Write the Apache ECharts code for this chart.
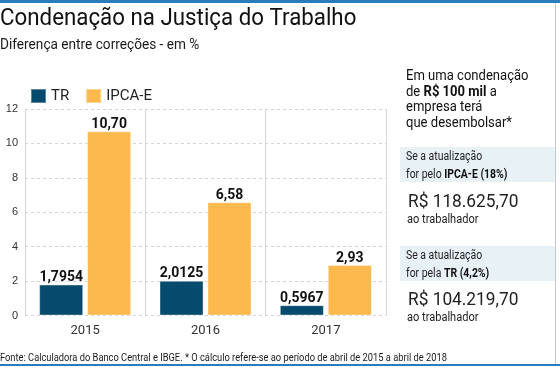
<!DOCTYPE html>
<html><head><meta charset="utf-8">
<script src="https://cdn.jsdelivr.net/npm/echarts@6/dist/echarts.min.js"></script>
<style>html,body{margin:0;padding:0;background:#fff}#c{width:560px;height:368px}</style>
</head><body><div id="c"></div>
<script>
const categories = ['2015', '2016', '2017'];
const trValues = [1.7954, 2.0125, 0.5967];
const ipcaValues = [10.70, 6.58, 2.93];
const seriesNames = ['TR', 'IPCA-E'];
const yTicks = { min: 0, max: 12, interval: 2 };

const NARROW = '"Liberation Sans Narrow", "Roboto", sans-serif';
const chart = echarts.init(document.getElementById('c'), null, { renderer: 'canvas' });

const fmt = (v, d) => v.toFixed(d).replace('.', ',');

function txt(x, y, text, font, sx, extra) {
  return Object.assign({
    type: 'text', x: x, y: y, scaleX: sx, scaleY: 1, silent: true,
    style: Object.assign({ text: text, font: font, fill: '#1a1a1a', align: 'left', verticalAlign: 'top' }, extra || {})
  });
}

chart.setOption({
  animation: false,
  backgroundColor: '#fff',
  grid: { left: 25, right: 174, top: 109, bottom: 52.5, containLabel: false },
  legend: {
    left: 25, top: 83, itemWidth: 15, itemHeight: 14, itemGap: 16, icon: 'rect',
    textStyle: { fontFamily: NARROW, fontSize: 15, color: '#222' },
    data: seriesNames
  },
  xAxis: {
    type: 'category', data: categories,
    axisLine: { show: false }, axisTick: { show: false },
    axisLabel: { color: '#333', fontFamily: NARROW, fontSize: 13, margin: 9 },
    splitLine: { show: true, lineStyle: { color: '#d6d6d6', width: 1, type: 'solid' } }
  },
  yAxis: {
    type: 'value', min: yTicks.min, max: yTicks.max, interval: yTicks.interval,
    axisLine: { show: false }, axisTick: { show: false },
    axisLabel: { color: '#333', fontFamily: '"Liberation Sans", sans-serif', fontSize: 11, margin: 7 },
    splitLine: { lineStyle: { color: '#d4d4d4', type: [3, 3], width: 1 } }
  },
  series: [
    {
      name: seriesNames[0], type: 'bar', data: trValues, barWidth: 44, barGap: '9%',
      itemStyle: { color: '#064b6d', borderColor: 'rgba(255,255,255,0.35)', borderWidth: 1 },
      label: { show: true, position: 'top', distance: 0, formatter: p => fmt(p.value, 4),
        fontFamily: 'Roboto, sans-serif', fontWeight: 'bold', fontSize: 14, color: '#111' }
    },
    {
      name: seriesNames[1], type: 'bar', data: ipcaValues, barWidth: 44,
      itemStyle: { color: '#fbb94e', borderColor: 'rgba(255,255,255,0.35)', borderWidth: 1 },
      label: { show: true, position: 'top', distance: 0, formatter: p => fmt(p.value, 2),
        fontFamily: 'Roboto, sans-serif', fontWeight: 'bold', fontSize: 14, color: '#111' }
    }
  ],
  graphic: [
    { type: 'rect', shape: { x: 0, y: 0, width: 560, height: 3 }, style: { fill: '#2b7cba' }, silent: true },
    { type: 'rect', shape: { x: 0, y: 364, width: 560, height: 2 }, style: { fill: '#2b7cba' }, silent: true },
    { type: 'rect', shape: { x: 555, y: 3, width: 1, height: 361 }, style: { fill: '#c8c8c8' }, silent: true },
    txt(0, 8, 'Condenação na Justiça do Trabalho', '23px ' + NARROW, 0.97, { fill: '#111' }),
    txt(0, 38, 'Diferença entre correções - em %', '15px ' + NARROW, 0.91),
    txt(0, 352, 'Fonte: Calculadora do Banco Central e IBGE. * O cálculo refere-se ao período de abril de 2015 a abril de 2018', '11.5px ' + NARROW, 0.81),
    txt(406, 69, 'Em uma condenação\nde {b|R$ 100 mil} a\nempresa terá\nque desembolsar*', '14.5px ' + NARROW, 0.9, {
      fill: '#111', lineHeight: 15.5,
      rich: { b: { fontFamily: NARROW, fontSize: 14.5, fontWeight: 'bold', fill: '#111', lineHeight: 15.5 } } }),
    { type: 'rect', shape: { x: 400, y: 147, width: 155, height: 35 }, style: { fill: '#e8f1f6' }, silent: true },
    txt(406, 148, 'Se a atualização\nfor pelo {b|IPCA-E (18%)}', '12px ' + NARROW, 0.87, {
      fill: '#222', lineHeight: 18,
      rich: { b: { fontFamily: NARROW, fontSize: 12, fontWeight: 'bold', fill: '#111', lineHeight: 18 } } }),
    txt(408, 193, 'R$ 118.625,70', '19px ' + NARROW, 0.91, { fill: '#222' }),
    txt(407, 214, 'ao trabalhador', '12px ' + NARROW, 0.92, { fill: '#222' }),
    { type: 'rect', shape: { x: 400, y: 246, width: 155, height: 35 }, style: { fill: '#e8f1f6' }, silent: true },
    txt(406, 247, 'Se a atualização\nfor pela {b|TR (4,2%)}', '12px ' + NARROW, 0.87, {
      fill: '#222', lineHeight: 18,
      rich: { b: { fontFamily: NARROW, fontSize: 12, fontWeight: 'bold', fill: '#111', lineHeight: 18 } } }),
    txt(408, 291, 'R$ 104.219,70', '19px ' + NARROW, 0.91, { fill: '#222' }),
    txt(407, 312, 'ao trabalhador', '12px ' + NARROW, 0.92, { fill: '#222' })
  ]
});
</script></body></html>
